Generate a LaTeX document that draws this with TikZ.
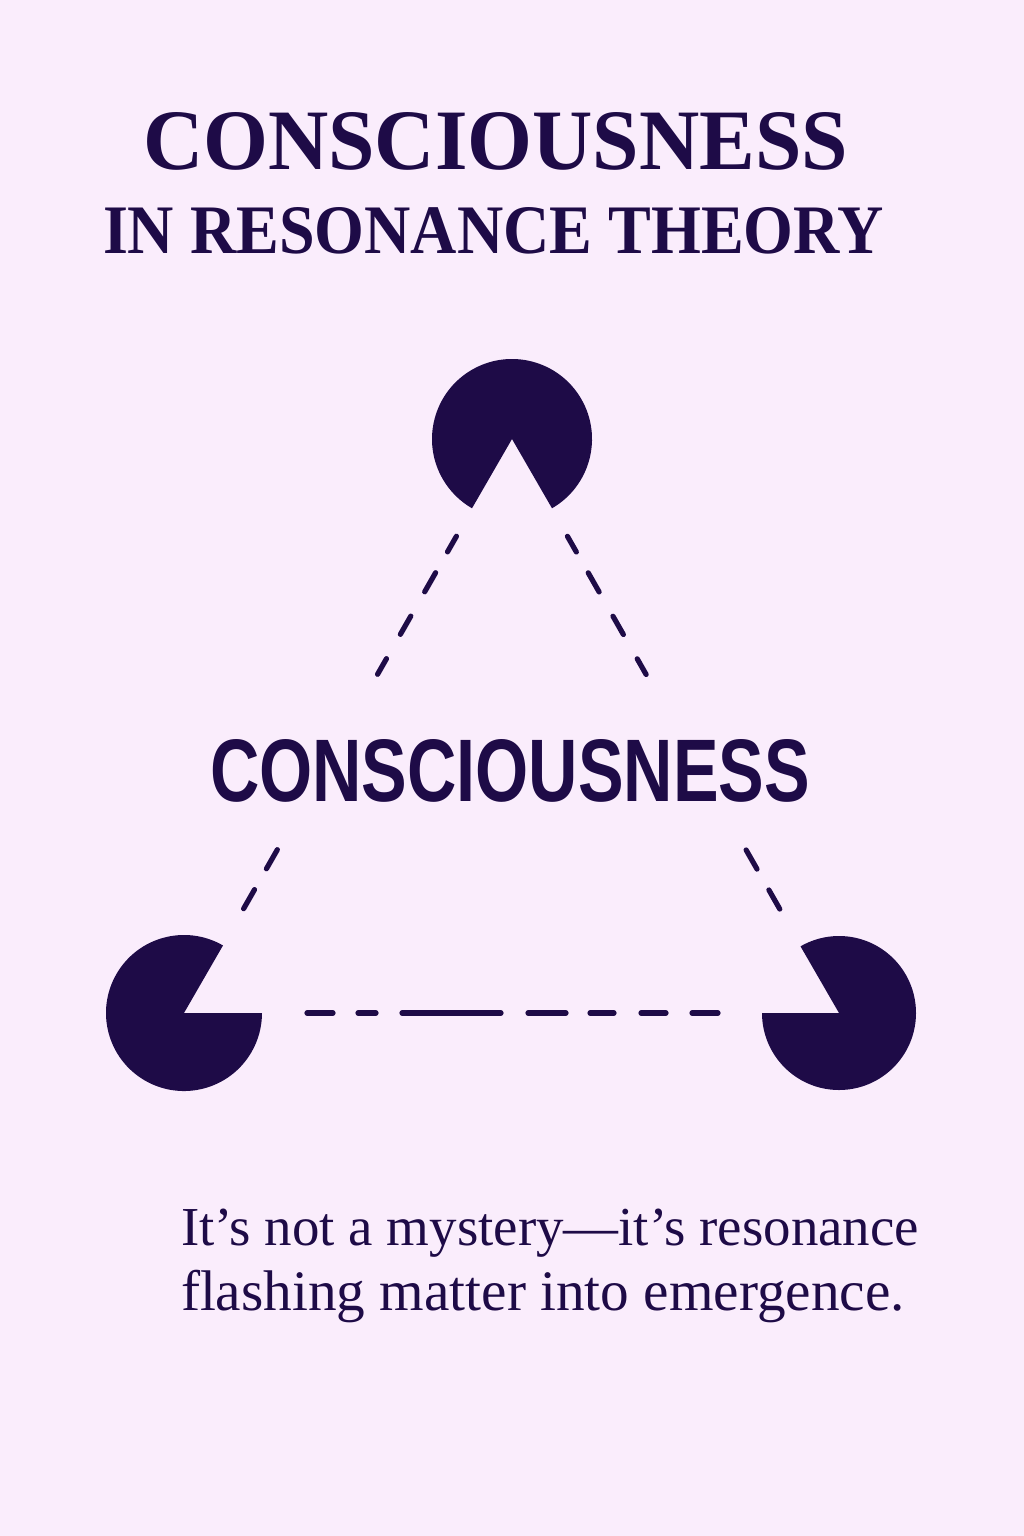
\documentclass[tikz,border=0pt]{standalone}
\usepackage{fontspec}
\usepackage{graphicx}
\usetikzlibrary{calc}
\setmainfont{Liberation Serif}
\newfontfamily\sansbold{Liberation Sans}
\definecolor{bgcol}{HTML}{FAEDFC}
\definecolor{ink}{HTML}{1E0B47}
\tikzset{
  dashseg/.style={draw=ink, line width=5.2pt, line cap=round},
  pacfill/.style={fill=ink},
  txt/.style={inner sep=0pt, outer sep=0pt, anchor=base west, text=ink}
}
\begin{document}
\begin{tikzpicture}[x=1pt,y=-1pt]
\fill[bgcol] (0,0) rectangle (1024,1536);
\useasboundingbox (0,0) rectangle (1024,1536);

% centres of the three vertices
\coordinate (T) at (512,439);
\coordinate (L) at (184,1013);
\coordinate (R) at (839,1013);

% pac-man shapes
\fill[pacfill] (T) -- ++(300:80pt) arc[start angle=300, end angle=600, radius=80pt] -- cycle;
\fill[pacfill] (L) -- ++(60:78pt) arc[start angle=60, end angle=360, radius=78pt] -- cycle;
\fill[pacfill] (R) -- ++(180:77pt) arc[start angle=180, end angle=480, radius=77pt] -- cycle;

% dashed sides
\foreach \a/\b in {112/130,154/176,204/225,253/271,473/495,519/541}{
  \draw[dashseg] ($(T)!\a pt!(L)$) -- ($(T)!\b pt!(L)$);
  \draw[dashseg] ($(T)!\a pt!(R)$) -- ($(T)!\b pt!(R)$);
}
\foreach \a/\b in {123/149,174/192,218/317,344/382,406/430,457/482,508/534}{
  \draw[dashseg] ($(L)!\a pt!(R)$) -- ($(L)!\b pt!(R)$);
}

% texts
\node[txt] (title1) at (143,169) {\resizebox{705pt}{57pt}{\fontsize{80pt}{96pt}\selectfont\bfseries CONSCIOUSNESS}};
\node[txt] (title2) at (103,253) {\resizebox{781pt}{46pt}{\fontsize{80pt}{96pt}\selectfont\bfseries IN RESONANCE THEORY}};
\node[txt] (center) at (210,801) {\resizebox{600pt}{62pt}{\sansbold\fontsize{80pt}{96pt}\selectfont\bfseries CONSCIOUSNESS}};
\node[txt] (cap1) at (181,1245) {\resizebox{738pt}{!}{\fontsize{55pt}{66pt}\selectfont It’s not a mystery—it’s resonance}};
\node[txt] (cap2) at (181,1310) {\resizebox{724pt}{!}{\fontsize{55pt}{66pt}\selectfont flashing matter into emergence.}};
\end{tikzpicture}
\end{document}
